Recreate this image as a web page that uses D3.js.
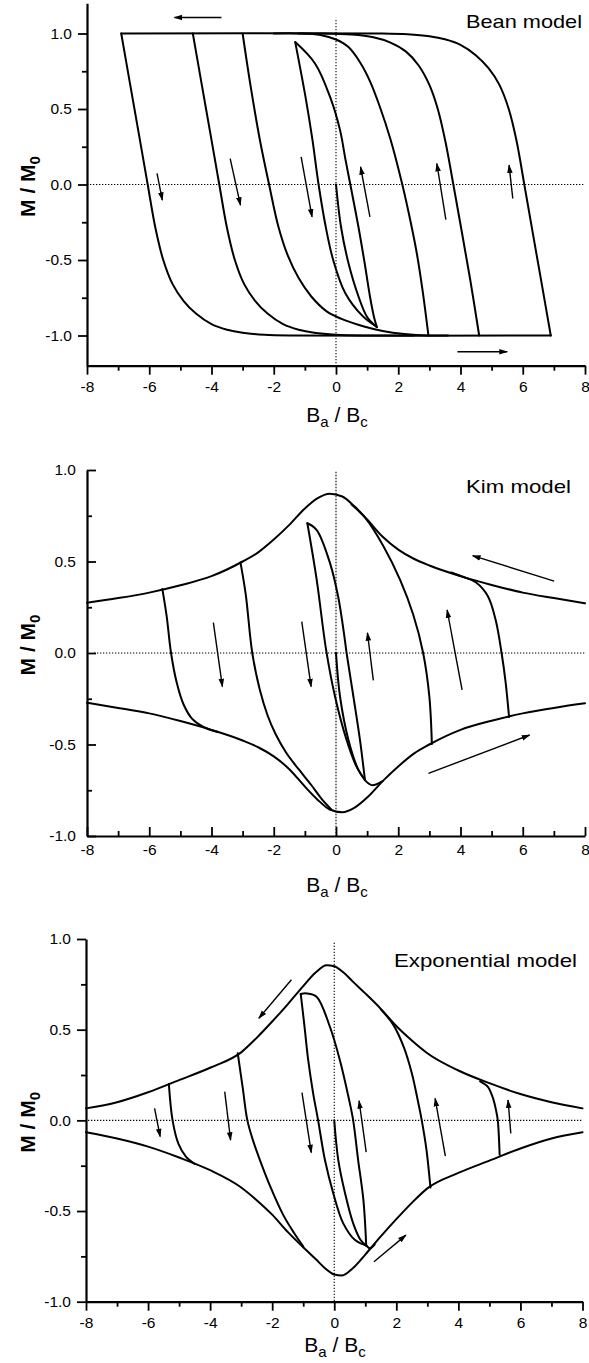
<!DOCTYPE html>
<html><head><meta charset="utf-8">
<script src="https://cdn.jsdelivr.net/npm/d3@7"></script>
<style>
body{margin:0;background:#fff}
svg{display:block}
text{font-family:"Liberation Sans",Arial,Helvetica,sans-serif;fill:#000}
</style>
</head><body>
<svg id="c" width="589" height="1363"></svg>
<script>
// ---------------- DATA ----------------
const xMajorTicks = [-8,-6,-4,-2,0,2,4,6,8];
const xMinorTicks = [-7,-5,-3,-1,1,3,5,7];
const yMajorTicks = [-1.0,-0.5,0.0,0.5,1.0];
const yMinorTicks = [-0.75,-0.25,0.25,0.75];
const panelLabels = ["Bean model","Kim model","Exponential model"];

// Bean model curves [B/Bc, M/M0]
const beanL1 = [[-6.9,1],[-6.62,0.67],[-6.33,0.33],[-6.05,0],[-5.8,-0.29],[-5.55,-0.5],[-5.25,-0.66],[-4.9,-0.77],[-4.5,-0.855],[-4.0,-0.925],[-3.5,-0.962],[-3.0,-0.982],[-2.3,-0.995],[-1.5,-1],[6.9,-1]];
const beanR1 = [[-6.9,1],[1.5,1],[2.3,0.995],[3.0,0.982],[3.5,0.962],[4.0,0.925],[4.5,0.855],[4.9,0.77],[5.25,0.66],[5.55,0.5],[5.8,0.29],[6.05,0],[6.33,-0.33],[6.62,-0.67],[6.9,-1]];
const beanL2 = [[-4.6,1],[-4.32,0.67],[-4.03,0.33],[-3.75,0],[-3.5,-0.29],[-3.25,-0.5],[-2.95,-0.66],[-2.6,-0.77],[-2.2,-0.855],[-1.7,-0.925],[-1.2,-0.962],[-0.7,-0.982],[0,-0.995],[0.8,-1],[2.5,-1]];
const beanR2 = [[-1.2,1],[-0.5,1],[0.5,0.993],[1.2,0.975],[1.75,0.94],[2.25,0.88],[2.65,0.79],[3.0,0.66],[3.27,0.5],[3.52,0.28],[3.77,0],[4.03,-0.3],[4.32,-0.64],[4.6,-1]];
const beanL3 = [[-3.0,1],[-2.75,0.66],[-2.45,0.3],[-2.15,0],[-1.85,-0.28],[-1.55,-0.47],[-1.2,-0.62],[-0.8,-0.74],[-0.3,-0.84],[0.3,-0.9],[0.9,-0.94],[1.5,-0.97],[2.2,-0.99],[3.0,-1],[3.6,-1]];
const beanR3 = [[-2.0,1],[-1.2,1],[-0.5,0.99],[0,0.96],[0.4,0.91],[0.8,0.8],[1.1,0.68],[1.4,0.52],[1.75,0.3],[2.13,0],[2.4,-0.25],[2.6,-0.46],[2.78,-0.7],[2.97,-1]];
const beanL4 = [[-1.31,0.943],[-0.98,0.58],[-0.76,0.3],[-0.56,0],[-0.33,-0.28],[-0.09,-0.5],[0.3,-0.72],[0.85,-0.87],[1.31,-0.943]];
const beanR4 = [[-1.31,0.943],[-0.67,0.80],[-0.19,0.58],[0.13,0.36],[0.3,0.17],[0.46,0],[0.72,-0.28],[0.92,-0.52],[1.09,-0.74],[1.22,-0.877],[1.31,-0.943]];
const beanVirgin = [[0,0],[0.16,-0.28],[0.4,-0.52],[0.72,-0.74],[1.0,-0.877],[1.31,-0.943]];
// arrows [B1, M1, B2, M2] (head at second point)
const beanArrows = [[-3.68,1.106,-5.19,1.106],[3.9,-1.108,5.5,-1.108],[-5.75,0.073,-5.58,-0.104],[-3.40,0.172,-3.07,-0.137],[-1.12,0.183,-0.77,-0.215],[1.09,-0.215,0.79,0.117],[3.53,-0.232,3.24,0.139],[5.68,-0.093,5.56,0.128]];

// Kim model curves
const kimUpper = [[-8,0.275],[-7,0.30],[-6,0.33],[-5,0.37],[-4,0.42],[-3,0.50],[-2.5,0.55],[-2,0.62],[-1.5,0.70],[-1,0.79],[-0.6,0.845],[-0.2,0.870],[0.2,0.855],[0.6,0.80],[1,0.73],[1.5,0.635],[2,0.565],[2.5,0.515],[3,0.478],[4,0.42],[5,0.372],[6,0.33],[7,0.30],[8,0.272]];
const kimLower = [[-8,-0.272],[-7,-0.30],[-6,-0.33],[-5,-0.372],[-4,-0.42],[-3,-0.478],[-2.5,-0.515],[-2,-0.565],[-1.5,-0.635],[-1,-0.73],[-0.6,-0.80],[-0.2,-0.855],[0.2,-0.870],[0.6,-0.845],[1,-0.79],[1.5,-0.70],[2,-0.62],[2.5,-0.55],[3,-0.50],[4,-0.42],[5,-0.37],[6,-0.33],[7,-0.30],[8,-0.275]];
const kimL1 = [[-5.58,0.35],[-5.44,0.2],[-5.3,0],[-5.12,-0.16],[-4.9,-0.28],[-4.62,-0.36],[-4.25,-0.405],[-3.8,-0.432]];
const kimL2 = [[-3.07,0.495],[-2.9,0.32],[-2.69,0],[-2.45,-0.2],[-2.2,-0.34],[-1.95,-0.44],[-1.6,-0.545],[-1.2,-0.635],[-0.8,-0.72],[-0.45,-0.8],[-0.15,-0.855]];
const kimR1 = [[3.7,0.44],[4.05,0.418],[4.5,0.385],[4.88,0.31],[5.13,0.18],[5.32,0],[5.45,-0.16],[5.56,-0.35]];
const kimR2 = [[0.5,0.812],[0.99,0.728],[1.52,0.585],[2.06,0.40],[2.48,0.21],[2.8,0],[3.0,-0.24],[3.08,-0.497]];
const kimInnerL = [[-0.92,0.709],[-0.62,0.40],[-0.32,0.02],[-0.03,-0.239],[0.34,-0.475],[0.66,-0.621],[0.93,-0.694]];
const kimInnerR = [[-0.92,0.709],[-0.62,0.672],[-0.19,0.49],[0.07,0.307],[0.27,0.09],[0.34,0],[0.56,-0.239],[0.77,-0.475],[0.93,-0.694]];
const kimVirgin = [[0,0],[0.13,-0.239],[0.40,-0.475],[0.72,-0.639],[0.93,-0.694]];
const kimHook = [[0.93,-0.695],[1.15,-0.722],[1.5,-0.70]];
const kimArrows = [[7.01,0.393,4.39,0.532],[2.97,-0.658,6.22,-0.448],[-3.94,0.166,-3.65,-0.184],[-1.10,0.171,-0.80,-0.184],[1.2,-0.15,1.01,0.11],[4.05,-0.202,3.57,0.235]];

// Exponential model curves
const expUpper = [[-8,0.066],[-7,0.10],[-6,0.155],[-5,0.222],[-4,0.29],[-3,0.375],[-2.5,0.455],[-2,0.545],[-1.5,0.64],[-1,0.74],[-0.6,0.815],[-0.25,0.855],[0,0.85],[0.3,0.815],[0.6,0.765],[1,0.70],[1.5,0.615],[2,0.52],[2.5,0.44],[3,0.37],[4,0.275],[5,0.205],[6,0.145],[7,0.10],[8,0.066]];
const expLower = [[-8,-0.066],[-7,-0.10],[-6,-0.145],[-5,-0.205],[-4,-0.275],[-3,-0.37],[-2.5,-0.44],[-2,-0.52],[-1.5,-0.615],[-1,-0.70],[-0.6,-0.765],[-0.3,-0.815],[0,-0.85],[0.25,-0.855],[0.6,-0.815],[1,-0.74],[1.5,-0.64],[2,-0.545],[2.5,-0.455],[3,-0.375],[4,-0.29],[5,-0.222],[6,-0.155],[7,-0.10],[8,-0.066]];
const expL1 = [[-5.33,0.2],[-5.21,0],[-5.02,-0.13],[-4.78,-0.2],[-4.5,-0.24]];
const expL2 = [[-3.11,0.37],[-2.95,0.18],[-2.8,0],[-2.6,-0.12],[-2.35,-0.24],[-2.05,-0.37],[-1.65,-0.52],[-1.3,-0.62],[-1.0,-0.695]];
const expR1 = [[4.7,0.215],[4.95,0.185],[5.12,0.12],[5.22,0.05],[5.27,0],[5.33,-0.19]];
const expR2 = [[1.5,0.612],[1.9,0.528],[2.25,0.4],[2.5,0.26],[2.68,0.12],[2.82,0],[2.97,-0.16],[3.1,-0.37]];
const expInnerL = [[-1.08,0.697],[-0.96,0.52],[-0.84,0.333],[-0.68,0.149],[-0.52,0],[-0.30,-0.219],[-0.03,-0.403],[0.29,-0.568],[0.67,-0.66],[1.03,-0.69]];
const expInnerR = [[-1.08,0.697],[-0.89,0.70],[-0.57,0.682],[-0.14,0.516],[0.18,0.333],[0.48,0.112],[0.61,0],[0.77,-0.219],[0.94,-0.44],[1.03,-0.69]];
const expVirgin = [[0,0],[0.13,-0.219],[0.35,-0.403],[0.61,-0.568],[0.85,-0.66],[1.03,-0.69]];
const expHook = [[1.03,-0.69],[1.15,-0.705],[1.3,-0.685]];
const expArrows = [[-1.38,0.775,-2.43,0.563],[1.28,-0.78,2.31,-0.633],[-5.79,0.066,-5.61,-0.09],[-3.53,0.158,-3.34,-0.109],[-1.04,0.153,-0.74,-0.178],[1.03,-0.175,0.8,0.108],[3.58,-0.197,3.25,0.121],[5.69,-0.072,5.6,0.112]];

// ---------------- DRAW ----------------
const svg = d3.select("#c");
svg.append("defs").append("marker")
  .attr("id","ah").attr("viewBox","0 -4 10 8").attr("refX",9).attr("refY",0)
  .attr("markerUnits","userSpaceOnUse").attr("markerWidth",9).attr("markerHeight",7)
  .attr("orient","auto")
  .append("path").attr("d","M0,-3.2L10,0L0,3.2Z").attr("fill","#000");

function drawPanel(p){
  const g = svg.append("g");
  const x = d3.scaleLinear().domain([-8,8]).range([p.x0,p.x1]);
  const y = d3.scaleLinear().domain(p.yDom).range([p.yB,p.yT]);

  // dotted reference lines
  g.append("line").attr("x1",x(-8)+p.hDot).attr("x2",x(8)).attr("y1",y(0)).attr("y2",y(0))
    .attr("stroke","#000").attr("stroke-width",1.1).attr("stroke-dasharray","1.3,1.7");
  g.append("line").attr("x1",x(0)).attr("x2",x(0)).attr("y1",y(p.vDotTop)).attr("y2",y(p.yDom[0]))
    .attr("stroke","#000").attr("stroke-width",1.1).attr("stroke-dasharray","1.3,1.7");

  const envLine = d3.line().x(d=>x(d[0])).y(d=>y(d[1])).curve(d3.curveMonotoneX);
  const brLine = d3.line().x(d=>x(d[0])).y(d=>y(d[1])).curve(d3.curveCatmullRom.alpha(0.5));
  p.envelopes.forEach(c=>{
    g.append("path").attr("d",envLine(c)).attr("fill","none").attr("stroke","#000")
      .attr("stroke-width",2).attr("stroke-linejoin","round").attr("stroke-linecap","round");
  });
  p.curves.forEach(c=>{
    g.append("path").attr("d",brLine(c)).attr("fill","none").attr("stroke","#000")
      .attr("stroke-width",2).attr("stroke-linejoin","round").attr("stroke-linecap","round");
  });
  p.arrows.forEach(a=>{
    g.append("line").attr("x1",x(a[0])).attr("y1",y(a[1])).attr("x2",x(a[2])).attr("y2",y(a[3]))
      .attr("stroke","#000").attr("stroke-width",1.4).attr("marker-end","url(#ah)");
  });

  // axes
  const dir = p.inward ? -1 : 1;
  const fmtX = d=>String(d);
  const fmtY = d=>d.toFixed(1);
  g.append("g").attr("transform",`translate(0,${p.yB})`)
    .call(d3.axisBottom(x).tickValues(xMajorTicks).tickFormat(fmtX).tickSizeInner(dir*9).tickSizeOuter(0).tickPadding(p.inward?8:6));
  g.append("g").attr("transform",`translate(0,${p.yB})`)
    .call(d3.axisBottom(x).tickValues(xMinorTicks).tickFormat("").tickSizeInner(dir*5).tickSizeOuter(0))
    .select(".domain").remove();
  g.append("g").attr("transform",`translate(${p.x0},0)`)
    .call(d3.axisLeft(y).tickValues(yMajorTicks).tickFormat(fmtY).tickSizeInner(dir*9).tickSizeOuter(0).tickPadding(p.inward?11:6));
  g.append("g").attr("transform",`translate(${p.x0},0)`)
    .call(d3.axisLeft(y).tickValues(yMinorTicks).tickFormat("").tickSizeInner(dir*5).tickSizeOuter(0))
    .select(".domain").remove();
  g.selectAll(".domain").attr("stroke-width",2.2);
  g.selectAll(".tick line").attr("stroke-width",1.8);
  g.selectAll(".tick text").attr("font-size",15.5).attr("font-family","'Liberation Sans',Arial,sans-serif");

  // axis titles
  const xt = g.append("text").attr("x",p.xTitleX).attr("y",p.xTitleY).attr("text-anchor","middle").attr("font-size",21);
  xt.append("tspan").text("B");
  xt.append("tspan").attr("dy",5).attr("font-size",15).text("a");
  xt.append("tspan").attr("dy",-5).text(" / B");
  xt.append("tspan").attr("dy",5).attr("font-size",15).text("c");

  const yt = g.append("text").attr("transform",`translate(${p.yTitleX},${y(0)+p.yTitleDy}) rotate(-90)`)
    .attr("text-anchor","middle").attr("font-size",21).attr("font-weight","bold");
  yt.append("tspan").text("M / M");
  yt.append("tspan").attr("dy",5).attr("font-size",15).text("0");

  g.append("text").attr("x",p.lblX).attr("y",p.lblY).attr("font-size",18.5)
    .attr("textLength",p.lblW).attr("lengthAdjust","spacingAndGlyphs").text(p.label);
}

drawPanel({x0:87,x1:585,yDom:[-1.2,1.2],yB:365.7,yT:3.3,hDot:0,vDotTop:1.09,inward:false,
  envelopes:[],curves:[beanL1,beanR1,beanL2,beanR2,beanL3,beanR3,beanL4,beanR4,beanVirgin],arrows:beanArrows,
  xTitleX:337,xTitleY:422,yTitleX:35,yTitleDy:2,label:panelLabels[0],lblX:466,lblY:28,lblW:116});
drawPanel({x0:87,x1:585,yDom:[-1,1],yB:836,yT:470,hDot:7,vDotTop:0.99,inward:true,
  envelopes:[kimUpper,kimLower],curves:[kimL1,kimL2,kimR1,kimR2,kimInnerL,kimInnerR,kimVirgin,kimHook],arrows:kimArrows,
  xTitleX:337,xTitleY:892,yTitleX:35,yTitleDy:-8,label:panelLabels[1],lblX:466,lblY:493,lblW:105});
drawPanel({x0:86,x1:582.5,yDom:[-1,1],yB:1301.7,yT:939,hDot:2,vDotTop:0.98,inward:false,
  envelopes:[expUpper,expLower],curves:[expL1,expL2,expR1,expR2,expInnerL,expInnerR,expVirgin,expHook],arrows:expArrows,
  xTitleX:335,xTitleY:1352,yTitleX:35,yTitleDy:2,label:panelLabels[2],lblX:394,lblY:967,lblW:183});
</script>
</body></html>
